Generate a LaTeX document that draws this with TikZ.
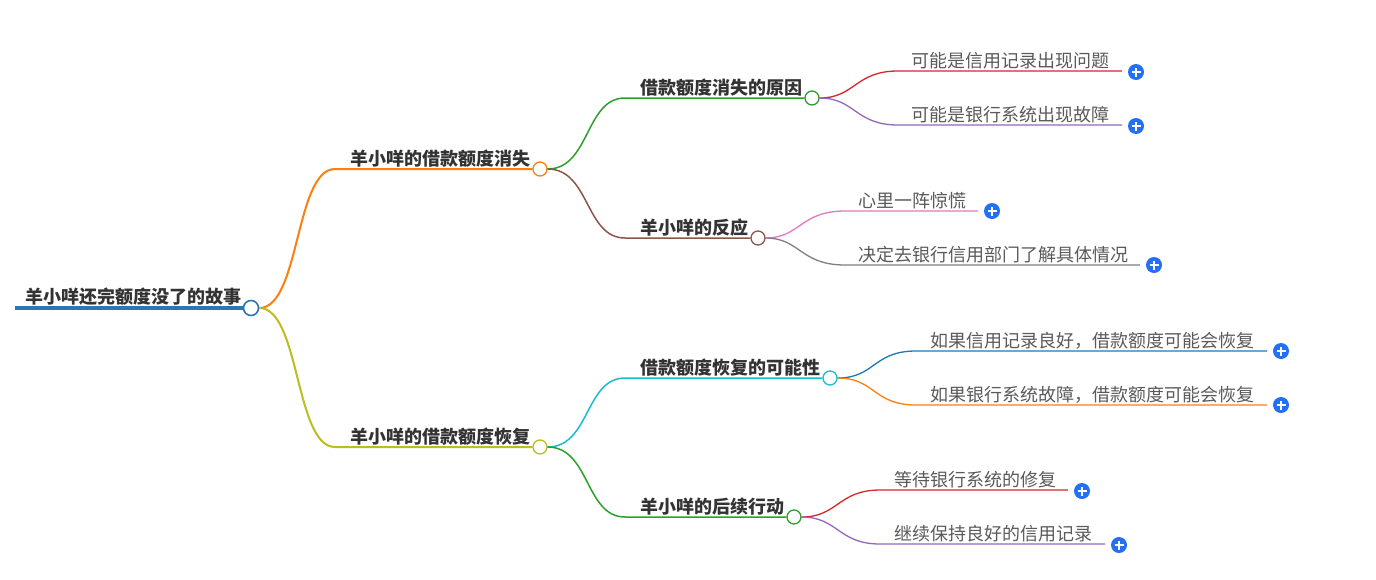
\documentclass[tikz,border=0pt]{standalone}
\usepackage{fontspec}
\setmainfont{Noto Sans CJK SC}
\definecolor{cRoot}{HTML}{2E75B6}
\definecolor{cOrange}{HTML}{FF7F0E}
\definecolor{cOlive}{HTML}{BCBD22}
\definecolor{cGreen}{HTML}{2CA02C}
\definecolor{cBrown}{HTML}{8C564B}
\definecolor{cCyan}{HTML}{17BECF}
\definecolor{cRed}{HTML}{D62728}
\definecolor{cPurple}{HTML}{9467BD}
\definecolor{cPink}{HTML}{E377C2}
\definecolor{cGray}{HTML}{7F7F7F}
\definecolor{cBlue}{HTML}{1F77B4}
\definecolor{cPlus}{HTML}{2470F5}
\definecolor{tDark}{HTML}{333333}
\definecolor{tLight}{HTML}{5A5A5A}
\begin{document}
\begin{tikzpicture}[x=1pt,y=-1pt,
  bold/.style={anchor=base west,inner sep=0pt,text=tDark,font=\fontsize{18}{18}\selectfont\bfseries},
  leaf/.style={anchor=base west,inner sep=0pt,text=tLight,font=\fontsize{18}{18}\selectfont},
  dot/.style={circle,draw=#1,fill=white,line width=1.3pt,minimum size=14pt,inner sep=0pt},
  plusbtn/.style={circle,fill=cPlus,minimum size=16pt,inner sep=0pt,
    path picture={\draw[white,line width=1.7pt]
      ([xshift=-4.5pt]path picture bounding box.center) -- ([xshift=4.5pt]path picture bounding box.center)
      ([yshift=-4.5pt]path picture bounding box.center) -- ([yshift=4.5pt]path picture bounding box.center);}},
]
\useasboundingbox (0,0) rectangle (1376,579);
\fill[white] (0,0) rectangle (1376,579);

% root
\coordinate (r-s) at (15,308);
\node[dot=cRoot,minimum size=15pt,line width=1.6pt] (r) at (251,308) {};
\draw[cRoot,line width=4pt] (r-s) -- (r.west);
\node[bold] (rt) at (25,303) {羊小咩还完额度没了的故事};

% level 1
\coordinate (a-s) at (335,169);
\node[dot=cOrange] (a) at (540,169) {};
\node[bold] (at) at (350,165) {羊小咩的借款额度消失};
\draw[cOrange,line width=2pt] (r.east) .. controls (300,308) and (295,169) .. (a-s) -- (a.west);

\coordinate (b-s) at (335,447);
\node[dot=cOlive] (b) at (540,447) {};
\node[bold] (bt) at (350,443) {羊小咩的借款额度恢复};
\draw[cOlive,line width=2pt] (r.east) .. controls (300,308) and (295,447) .. (b-s) -- (b.west);

% level 2
\coordinate (a1-s) at (625,98);
\node[dot=cGreen] (a1) at (812,98) {};
\node[bold] (a1t) at (640,94) {借款额度消失的原因};
\draw[cGreen,line width=1.5pt] (a.east) .. controls (590,169) and (585,98) .. (a1-s) -- (a1.west);

\coordinate (a2-s) at (625,238);
\node[dot=cBrown] (a2) at (758,238) {};
\node[bold] (a2t) at (640,234) {羊小咩的反应};
\draw[cBrown,line width=1.5pt] (a.east) .. controls (590,169) and (585,238) .. (a2-s) -- (a2.west);

\coordinate (b1-s) at (625,378);
\node[dot=cCyan] (b1) at (830,378) {};
\node[bold] (b1t) at (640,374) {借款额度恢复的可能性};
\draw[cCyan,line width=1.5pt] (b.east) .. controls (590,447) and (585,378) .. (b1-s) -- (b1.west);

\coordinate (b2-s) at (625,517);
\node[dot=cGreen] (b2) at (794,517) {};
\node[bold] (b2t) at (640,513) {羊小咩的后续行动};
\draw[cGreen,line width=1.5pt] (b.east) .. controls (590,447) and (585,517) .. (b2-s) -- (b2.west);

% level 3
\coordinate (a11-s) at (898,71);
\coordinate (a11-e) at (1122,71);
\node[plusbtn] (a11p) at (1136,72) {};
\node[leaf] (a11t) at (911,67) {可能是信用记录出现问题};
\draw[cRed,line width=1.3pt] (a1.east) .. controls (855,98) and (855,71) .. (a11-s) -- (a11-e);

\coordinate (a12-s) at (898,125);
\coordinate (a12-e) at (1122,125);
\node[plusbtn] (a12p) at (1136,126) {};
\node[leaf] (a12t) at (911,121) {可能是银行系统出现故障};
\draw[cPurple,line width=1.3pt] (a1.east) .. controls (855,98) and (855,125) .. (a12-s) -- (a12-e);

\coordinate (a21-s) at (845,211);
\coordinate (a21-e) at (978,211);
\node[plusbtn] (a21p) at (992,211) {};
\node[leaf] (a21t) at (858,207) {心里一阵惊慌};
\draw[cPink,line width=1.3pt] (a2.east) .. controls (800,238) and (800,211) .. (a21-s) -- (a21-e);

\coordinate (a22-s) at (845,265);
\coordinate (a22-e) at (1140,265);
\node[plusbtn] (a22p) at (1154,265) {};
\node[leaf] (a22t) at (858,261) {决定去银行信用部门了解具体情况};
\draw[cGray,line width=1.3pt] (a2.east) .. controls (800,238) and (800,265) .. (a22-s) -- (a22-e);

\coordinate (b11-s) at (916,351);
\coordinate (b11-e) at (1267,351);
\node[plusbtn] (b11p) at (1281,351) {};
\node[leaf] (b11t) at (930,347) {如果信用记录良好，借款额度可能会恢复};
\draw[cBlue,line width=1.3pt] (b1.east) .. controls (875,378) and (873,351) .. (b11-s) -- (b11-e);

\coordinate (b12-s) at (916,405);
\coordinate (b12-e) at (1267,405);
\node[plusbtn] (b12p) at (1281,405) {};
\node[leaf] (b12t) at (930,401) {如果银行系统故障，借款额度可能会恢复};
\draw[cOrange,line width=1.3pt] (b1.east) .. controls (875,378) and (873,405) .. (b12-s) -- (b12-e);

\coordinate (b21-s) at (880,490);
\coordinate (b21-e) at (1068,490);
\node[plusbtn] (b21p) at (1082,491) {};
\node[leaf] (b21t) at (894,486) {等待银行系统的修复};
\draw[cRed,line width=1.3pt] (b2.east) .. controls (838,517) and (838,490) .. (b21-s) -- (b21-e);

\coordinate (b22-s) at (880,544);
\coordinate (b22-e) at (1105,544);
\node[plusbtn] (b22p) at (1119,545) {};
\node[leaf] (b22t) at (894,540) {继续保持良好的信用记录};
\draw[cPurple,line width=1.3pt] (b2.east) .. controls (838,517) and (838,544) .. (b22-s) -- (b22-e);
\end{tikzpicture}
\end{document}
